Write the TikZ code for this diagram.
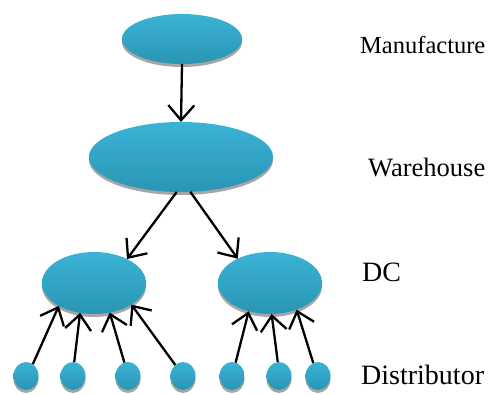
\documentclass[tikz,border=0pt]{standalone}
\usepackage{fontspec}
\setmainfont{Liberation Serif}
\usetikzlibrary{shapes.geometric,shadows,arrows.meta}

\definecolor{bluetop}{HTML}{3AB3D6}
\definecolor{bluebot}{HTML}{2A95B3}

\begin{document}
\begin{tikzpicture} [
            x=1pt, y=-1pt,
            site/.style={ellipse, inner sep=0pt, outer sep=0pt,
                top color=bluetop, bottom color=bluebot, draw=none,
                drop shadow={shadow xshift=0pt, shadow yshift=-3pt, fill=black!35, opacity=1}},
            big site/.style={site, minimum width=184pt, minimum height=70pt},
            mid site/.style={site, minimum width=120pt, minimum height=50pt},
            dc site/.style={site, minimum width=104pt, minimum height=62pt},
            small site/.style={site, minimum width=25pt, minimum height=28pt},
            flow/.style={draw, line width=2.3pt, -{Straight Barb[length=15pt,width=26pt]}},
            tier/.style={anchor=west, inner sep=0pt, font=\fontsize{28}{32}\selectfont}
        ]
        \useasboundingbox (0,0) rectangle (495,394);
        % the sites
        \node[mid site] (M) at (182,39) {};
        \node[big site] (W) at (181,157) {};
        \node[dc site] (C1) at (94,283) {};
        \node[dc site] (C2) at (270,283) {};
        \foreach \x/\name in {26/D1, 73/D2, 128/D3, 183/D4, 232/D5, 279/D6, 318/D7}
            \node[small site] (\name) at (\x,376) {};
        % flows between the tiers
        \path[flow] (M.south) -- (W.north);
        \path[flow] (W.263) -- (C1.36);
        \path[flow] (W.285) -- (C2.143);
        \foreach \source/\dest in {D1.60/C1.213, D2.85/C1.245, D3.105/C1.298, D4.125/C1.330,
                D5.75/C2.233, D6.95/C2.273, D7.110/C2.315}
            \path[flow] (\source) -- (\dest);
        % tier names
        \node[tier, font=\fontsize{24.5}{28}\selectfont] (manufacture) at (360,45) {Manufacture};
        \node[tier, font=\fontsize{26.5}{30}\selectfont] (warehouse) at (368,168) {Warehouse};
        \node[tier] (dc) at (362,272) {DC};
        \node[tier] (distributor) at (361,375) {Distributor};
    \end{tikzpicture}
\end{document}
